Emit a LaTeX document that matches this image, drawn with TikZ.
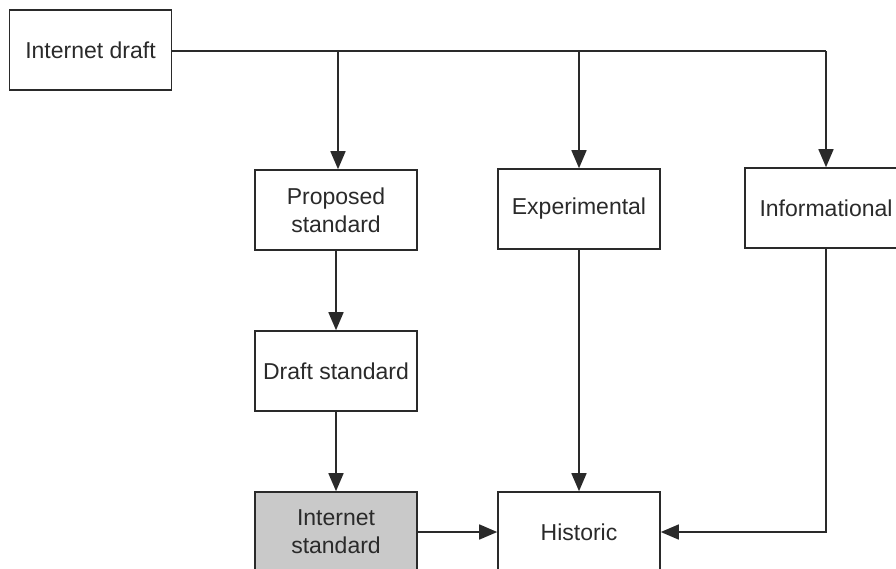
\documentclass[tikz,border=0pt]{standalone}
\usepackage{fontspec}
\setmainfont{Liberation Sans}
\usetikzlibrary{arrows.meta}
\definecolor{ink}{HTML}{2A2A2A}
\definecolor{stdfill}{HTML}{C9C9C9}
\begin{document}
\begin{tikzpicture}[x=1pt,y=-1pt,
  box/.style={draw=ink, line width=1.6pt, minimum width=162pt, minimum height=80pt,
    inner sep=0pt, align=center, text=ink, font=\fontsize{23}{28}\selectfont},
  link/.style={draw=ink, line width=1.6pt},
  flow/.style={link, -{Triangle[length=18pt,width=15pt]}}]
  \useasboundingbox (0,0) rectangle (896,568);
  % state boxes
  \node[box] (draft) at (90.5,50) {Internet draft};
  \node[box] (prop)  at (336,210) {Proposed\\standard};
  \node[box] (exp)   at (579,209) {Experimental};
  \node[box] (info)  at (826,208) {Informational};
  \node[box] (dstd)  at (336,371) {Draft standard};
  \node[box, fill=stdfill] (istd) at (336,532) {Internet\\standard};
  \node[box] (hist)  at (579,532) {Historic};
  % branch points on the top bus
  \coordinate (b1) at (338,51);
  \coordinate (b2) at (579,51);
  \coordinate (b3) at (826,51);
  \draw[link] (draft.east |- b1) -- (b3);
  \draw[flow] (b1) -- (b1 |- prop.north);
  \draw[flow] (b2) -- (exp.north);
  \draw[flow] (b3) -- (info.north);
  % standards track
  \draw[flow] (prop) -- (dstd);
  \draw[flow] (dstd) -- (istd);
  % into historic
  \draw[flow] (istd) -- (hist);
  \draw[flow] (exp) -- (hist);
  \draw[flow] (info.south) |- (hist.east);
\end{tikzpicture}
\end{document}
